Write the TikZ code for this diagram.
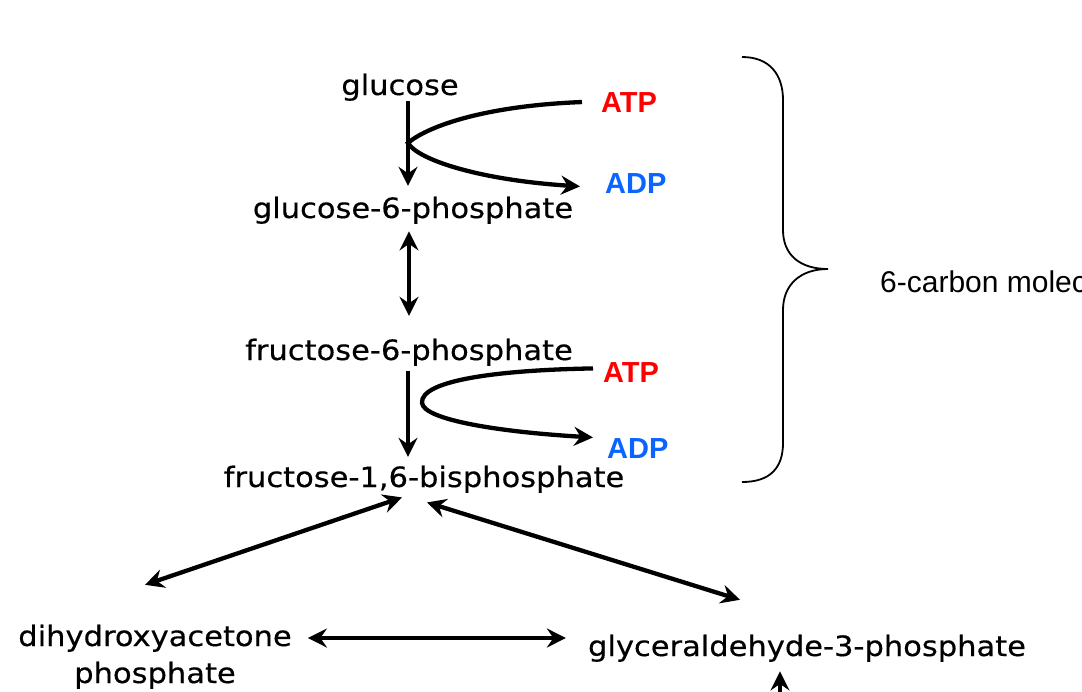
\documentclass[tikz,border=0pt]{standalone}
\usepackage{fontspec}
\usetikzlibrary{arrows.meta,calc}
\newfontfamily\mainf{DejaVu Sans}[FakeStretch=1.09,FakeBold=0.4]
\newfontfamily\arialf{Liberation Sans}
\definecolor{atpred}{HTML}{FF0000}
\definecolor{adpblue}{HTML}{0A64FF}
\tikzset{
  mol/.style={inner sep=0pt, anchor=base, font=\mainf\fontsize{28}{37}\selectfont, align=center},
  atpnode/.style={inner sep=0pt, anchor=base west, text=atpred, font=\arialf\bfseries\fontsize{29}{34}\selectfont},
  adpnode/.style={inner sep=0pt, anchor=base west, text=adpblue, font=\arialf\bfseries\fontsize{29}{34}\selectfont},
  lbl/.style={inner sep=0pt, anchor=base west, font=\arialf\fontsize{30}{35}\selectfont},
  arr/.style={line width=4.3pt, -{Stealth[length=19pt,width=19pt,inset=6.5pt]}},
  darr/.style={line width=4.3pt, {Stealth[length=19pt,width=19pt,inset=6.5pt]}-{Stealth[length=19pt,width=19pt,inset=6.5pt]}},
  bracestyle/.style={line width=1.8pt}
}
\begin{document}
\begin{tikzpicture}[x=1pt,y=-1pt]
\useasboundingbox (0,0) rectangle (1082,691);
\clip (0,0) rectangle (1082,691);
\fill[white] (0,0) rectangle (1082,691);
% molecules
\node[mol] (glc) at (400,95) {glucose};
\node[mol] (g6p) at (413,218) {glucose-6-phosphate};
\node[mol] (f6p) at (409,360) {fructose-6-phosphate};
\node[mol] (f16) at (424,487) {fructose-1,6-bisphosphate};
\node[mol] (dhap) at (155,683) {dihydroxyacetone\\phosphate};
\node[mol] (g3p) at (807,656) {glyceraldehyde-3-phosphate};
% cofactors
\node[atpnode] (atp1) at (601,112) {ATP};
\node[adpnode] (adp1) at (605,193) {ADP};
\node[atpnode] (atp2) at (603,382) {ATP};
\node[adpnode] (adp2) at (607,458) {ADP};
% label
\node[lbl] (six) at (880,292) {6-carbon molecules};
% helper coordinates
\coordinate (vx) at (408,0);
\coordinate (vy) at (409,0);
\coordinate (hy) at (0,638);
\coordinate (bx) at (780,0);
\coordinate (bot) at (780,705);
\coordinate (k1) at (408,143);
\coordinate (k2) at (422,403);
% vertical arrows
\draw[arr] (glc.south -| vx) -- ($(g6p.north -| vx)+(0,-10.7)$);
\draw[darr] ($(g6p.south -| vy)+(0,7.4)$) -- ($(f6p.north -| vy)+(0,-22.7)$);
\draw[arr] ($(f6p.south -| vx)+(0,5.4)$) -- ($(f16.north -| vx)+(0,-8.7)$);
% ATP/ADP curves
\draw[arr] ($(atp1.west)+(-19,0)$) .. controls (480,106) and (425,128) .. (k1)
  .. controls (418,160) and (480,180) .. ($(adp1.west)+(-25,3.4)$);
\draw[arr] ($(atp2.west)+(-10,-3.6)$) .. controls (500,370) and (420,380) .. (k2)
  .. controls (424,420) and (500,432) .. ($(adp2.west)+(-14,-10.6)$);
% splitting arrows
\draw[darr] ($(f16.south)+(-22,4.4)$) -- ($(dhap.north)+(-10,-39.7)$);
\draw[darr] ($(f16.south)+(3,9.4)$) -- ($(g3p.north)+(-67,-34.7)$);
\draw[darr, line width=4.8pt] ($(hy -| dhap.east)+(16,0)$) -- ($(hy -| g3p.west)+(-22,0)$);
\draw[arr] (bot) -- ($(g3p.south -| bx)+(0,9.4)$);
% brace
\draw[bracestyle] (742,57) .. controls (770,57) and (783,75) .. (783,100) -- (783,230)
  .. controls (783,255) and (800,269) .. (828,269)
  .. controls (800,269) and (783,285) .. (783,310) -- (783,443)
  .. controls (783,468) and (770,482) .. (742,482);
\end{tikzpicture}
\end{document}
